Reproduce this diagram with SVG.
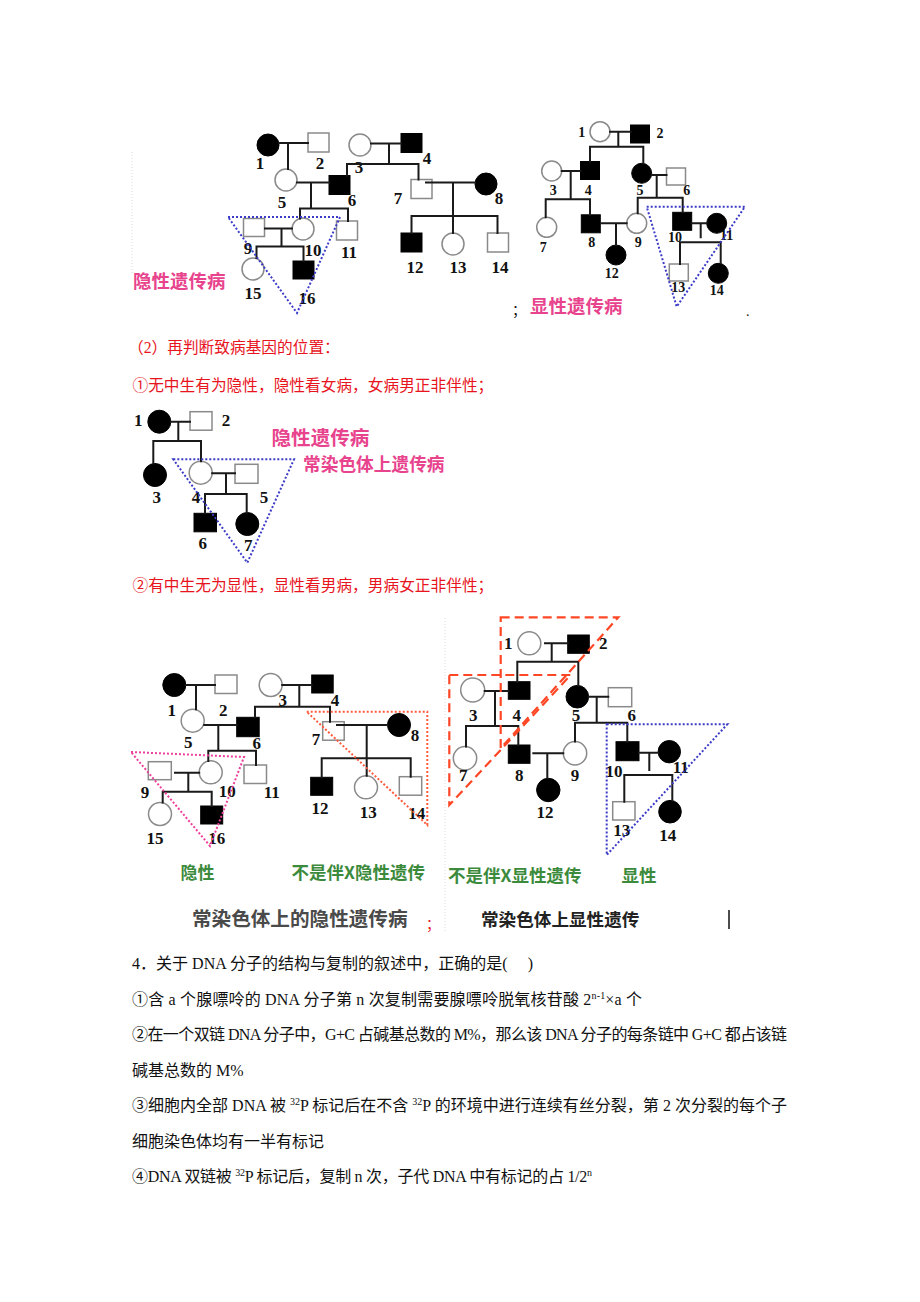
<svg xmlns="http://www.w3.org/2000/svg" width="920" height="1302" viewBox="0 0 920 1302">
<style>
.ln{stroke:#1a1a1a;stroke-width:2;fill:none;stroke-linecap:square}
.fo{fill:#fff;stroke:#8a8a8a;stroke-width:1.5}
.ff{fill:#000;stroke:#000;stroke-width:1}
.lb{font-family:"Liberation Serif",serif;font-weight:bold;font-size:17px;text-anchor:middle;fill:#111}
.s{font-size:14px}
.tb{fill:none;stroke:#3b3bc8;stroke-width:2;stroke-dasharray:2 2}
.tp{fill:none;stroke:#ee3f9c;stroke-width:2;stroke-dasharray:2 2}
.to{fill:none;stroke:#ff5a3c;stroke-width:2;stroke-dasharray:2 2}
.td{fill:none;stroke:#ff4726;stroke-width:2.2;stroke-dasharray:9 5}
.faint{stroke:#dcdcdc;stroke-width:1;stroke-dasharray:1 2}
.cjk{font-family:"Liberation Serif","Noto Sans CJK SC",serif}
.pk{font-family:"Noto Sans CJK SC",sans-serif;font-weight:bold;fill:#e8438d}
.gr{font-family:"Noto Sans CJK SC",sans-serif;font-weight:bold;fill:#3c8a3c}
.rd{fill:#e8141e;font-size:15.7px}
.bd{fill:#111;font-size:16px;white-space:pre}
</style>
<rect width="920" height="1302" fill="#fff"/>
<line class="faint" x1="132" y1="152" x2="132" y2="275"/>
<line class="faint" x1="445" y1="618" x2="445" y2="932"/>

<!-- ============ Top-left pedigree ============ -->
<g id="tl-1"><circle class="ff" cx="268" cy="145" r="11"/><text class="lb" x="260" y="169">1</text></g>
<g id="tl-2"><rect class="fo" x="308" y="133" width="21" height="19"/><text class="lb" x="320" y="169">2</text></g>
<g id="tl-3"><circle class="fo" cx="360" cy="145" r="11"/><text class="lb" x="359" y="172.5">3</text></g>
<g id="tl-4"><rect class="ff" x="401" y="133.5" width="21" height="19"/><text class="lb" x="427" y="164">4</text></g>
<g id="tl-5"><circle class="fo" cx="286" cy="180" r="11"/><text class="lb" x="282" y="207.5">5</text></g>
<g id="tl-6"><rect class="ff" x="329" y="175.5" width="21" height="19"/><text class="lb" x="352" y="206">6</text></g>
<g id="tl-7"><rect class="fo" x="411" y="179.5" width="21" height="19"/><text class="lb" x="398" y="204">7</text></g>
<g id="tl-8"><circle class="ff" cx="486" cy="184" r="11"/><text class="lb" x="499" y="204">8</text></g>
<g id="tl-9"><rect class="fo" x="243.5" y="218.5" width="21" height="18"/><text class="lb" x="248" y="254">9</text></g>
<g id="tl-10"><circle class="fo" cx="303" cy="229" r="11"/><text class="lb" x="313" y="256">10</text></g>
<g id="tl-11"><rect class="fo" x="336.5" y="221" width="21" height="19"/><text class="lb" x="349" y="257.5">11</text></g>
<g id="tl-12"><rect class="ff" x="401" y="233" width="21" height="19"/><text class="lb" x="415" y="272.5">12</text></g>
<g id="tl-13"><circle class="fo" cx="453" cy="244" r="11"/><text class="lb" x="458" y="272.5">13</text></g>
<g id="tl-14"><rect class="fo" x="487.5" y="233" width="21" height="19"/><text class="lb" x="500" y="272.5">14</text></g>
<g id="tl-15"><circle class="fo" cx="253" cy="269" r="11"/><text class="lb" x="253" y="299">15</text></g>
<g id="tl-16"><rect class="ff" x="293" y="261" width="21" height="18"/><text class="lb" x="307" y="304">16</text></g>

<!-- ============ Top-right pedigree ============ -->
<g id="tr-1"><circle class="fo" cx="600" cy="131.7" r="10"/><text class="lb s" x="581.7" y="136.7">1</text></g>
<g id="tr-2"><rect class="ff" x="630.5" y="125" width="19" height="18"/><text class="lb s" x="660" y="138.3">2</text></g>
<g id="tr-3"><circle class="fo" cx="551.7" cy="171" r="10"/><text class="lb s" x="553.3" y="195">3</text></g>
<g id="tr-4"><rect class="ff" x="580.5" y="161.5" width="19" height="18"/><text class="lb s" x="588.3" y="195">4</text></g>
<g id="tr-5"><circle class="ff" cx="641.7" cy="173.3" r="10"/><text class="lb s" x="640" y="195">5</text></g>
<g id="tr-6"><rect class="fo" x="666.5" y="168" width="19" height="17"/><text class="lb s" x="686.7" y="195">6</text></g>
<g id="tr-7"><circle class="fo" cx="546.7" cy="227.3" r="10"/><text class="lb s" x="543.3" y="251.7">7</text></g>
<g id="tr-8"><rect class="ff" x="581.3" y="214.8" width="19" height="18"/><text class="lb s" x="591.7" y="246.7">8</text></g>
<g id="tr-9"><circle class="fo" cx="636.7" cy="223.3" r="10"/><text class="lb s" x="638.3" y="246.7">9</text></g>
<g id="tr-10"><rect class="ff" x="672.7" y="212.3" width="19" height="18"/><text class="lb s" x="675" y="241.7">10</text></g>
<g id="tr-11"><circle class="ff" cx="716.7" cy="223.3" r="10"/><text class="lb s" x="726.7" y="240">11</text></g>
<g id="tr-12"><circle class="ff" cx="616" cy="255" r="10"/><text class="lb s" x="611.7" y="278.3">12</text></g>
<g id="tr-13"><rect class="fo" x="669.3" y="264" width="19" height="17"/><text class="lb s" x="678.3" y="291.7">13</text></g>
<g id="tr-14"><circle class="ff" cx="718.3" cy="273.3" r="10"/><text class="lb s" x="716.7" y="295">14</text></g>

<!-- ============ Middle pedigree ============ -->
<g id="m-1"><circle class="ff" cx="159.3" cy="421.7" r="11.5"/><text class="lb" x="138.3" y="426">1</text></g>
<g id="m-2"><rect class="fo" x="190" y="411.7" width="22" height="18.5"/><text class="lb" x="226" y="426">2</text></g>
<g id="m-3"><circle class="ff" cx="155" cy="475" r="11.5"/><text class="lb" x="156.7" y="502.7">3</text></g>
<g id="m-4"><circle class="fo" cx="200.7" cy="472.7" r="11.5"/><text class="lb" x="196" y="502.7">4</text></g>
<g id="m-5"><rect class="fo" x="235" y="464.3" width="23" height="19"/><text class="lb" x="264" y="502.7">5</text></g>
<g id="m-6"><rect class="ff" x="194" y="513.3" width="22.5" height="18.5"/><text class="lb" x="202.7" y="549.3">6</text></g>
<g id="m-7"><circle class="ff" cx="247.3" cy="524" r="11.5"/><text class="lb" x="248.3" y="551">7</text></g>

<!-- ============ Bottom-left pedigree ============ -->
<g id="bl-1"><circle class="ff" cx="174.3" cy="685" r="11.5"/><text class="lb" x="171.7" y="716">1</text></g>
<g id="bl-2"><rect class="fo" x="215" y="675" width="22" height="18.5"/><text class="lb" x="223.3" y="716">2</text></g>
<g id="bl-3"><circle class="fo" cx="270.7" cy="685" r="11.5"/><text class="lb" x="282.7" y="706">3</text></g>
<g id="bl-4"><rect class="ff" x="311.7" y="675" width="21.5" height="18"/><text class="lb" x="335" y="706">4</text></g>
<g id="bl-5"><circle class="fo" cx="192.7" cy="720.7" r="11.5"/><text class="lb" x="188.3" y="747.7">5</text></g>
<g id="bl-6"><rect class="ff" x="236.7" y="717.3" width="22.5" height="19.4"/><text class="lb" x="256.7" y="749.3">6</text></g>
<g id="bl-7"><rect class="fo" x="322.7" y="721.7" width="21.5" height="18.5"/><text class="lb" x="316" y="745.3">7</text></g>
<g id="bl-8"><circle class="ff" cx="399" cy="725" r="11.5"/><text class="lb" x="415" y="741">8</text></g>
<g id="bl-9"><rect class="fo" x="148.3" y="761.7" width="23" height="18"/><text class="lb" x="145" y="797.7">9</text></g>
<g id="bl-10"><circle class="fo" cx="210.7" cy="772.3" r="11.5"/><text class="lb" x="227.3" y="796.7">10</text></g>
<g id="bl-11"><rect class="fo" x="244" y="765" width="22.5" height="18.5"/><text class="lb" x="271.7" y="797.7">11</text></g>
<g id="bl-12"><rect class="ff" x="310.7" y="777.3" width="22" height="18"/><text class="lb" x="320" y="814.3">12</text></g>
<g id="bl-13"><circle class="fo" cx="366" cy="787.3" r="11.5"/><text class="lb" x="368.3" y="817.7">13</text></g>
<g id="bl-14"><rect class="fo" x="399.3" y="776.7" width="22.4" height="18.5"/><text class="lb" x="416.7" y="819.3">14</text></g>
<g id="bl-15"><circle class="fo" cx="160" cy="814" r="11.5"/><text class="lb" x="155" y="844.3">15</text></g>
<g id="bl-16"><rect class="ff" x="200.7" y="806" width="22" height="18"/><text class="lb" x="216.7" y="844.3">16</text></g>

<!-- ============ Bottom-right pedigree ============ -->
<g id="br-1"><circle class="fo" cx="529.3" cy="643.3" r="11.5"/><text class="lb" x="508.3" y="649.3">1</text></g>
<g id="br-2"><rect class="ff" x="567.7" y="635" width="21.6" height="18.3"/><text class="lb" x="603.3" y="649.3">2</text></g>
<g id="br-3"><circle class="fo" cx="472.7" cy="690" r="12"/><text class="lb" x="473.3" y="721">3</text></g>
<g id="br-4"><rect class="ff" x="508.3" y="681.7" width="21.7" height="17.6"/><text class="lb" x="516.7" y="721">4</text></g>
<g id="br-5"><circle class="ff" cx="577.3" cy="696.7" r="11.3"/><text class="lb" x="576" y="721">5</text></g>
<g id="br-6"><rect class="fo" x="608.3" y="687.7" width="23.4" height="19"/><text class="lb" x="631.7" y="721">6</text></g>
<g id="br-7"><circle class="fo" cx="465" cy="758.3" r="11.7"/><text class="lb" x="463.3" y="781">7</text></g>
<g id="br-8"><rect class="ff" x="508.3" y="745" width="21.7" height="18.3"/><text class="lb" x="519.3" y="781">8</text></g>
<g id="br-9"><circle class="fo" cx="575" cy="753.3" r="11.7"/><text class="lb" x="575" y="781">9</text></g>
<g id="br-10"><rect class="ff" x="616" y="741.7" width="23" height="19"/><text class="lb" x="614" y="776.7">10</text></g>
<g id="br-11"><circle class="ff" cx="669.3" cy="751.7" r="11.2"/><text class="lb" x="680.7" y="772.7">11</text></g>
<g id="br-12"><circle class="ff" cx="548.3" cy="790" r="11.7"/><text class="lb" x="545" y="817.7">12</text></g>
<g id="br-13"><rect class="fo" x="612.7" y="801.7" width="22.3" height="18.3"/><text class="lb" x="621.7" y="836">13</text></g>
<g id="br-14"><circle class="ff" cx="670" cy="811.7" r="11.3"/><text class="lb" x="667.7" y="841">14</text></g>

<!-- ============ Connectors ============ -->
<g id="connectors" class="ln">
  <!-- top-left -->
  <path d="M279 143H308 M288 143V169 M371 143.5H401 M389 143.5V164 M347 164H418.5 M347 164V175.5 M418.5 164V179.5"/>
  <path d="M297 182.5H329 M311 182.5V208.5 M300 208.5H348 M300 208.5V218.5 M348 208.5V221"/>
  <path d="M426 182.5H475 M453 182.5V216 M411.5 216H497.5 M411.5 216V233 M453 216V233 M497.5 216V233"/>
  <path d="M265 228.5H292 M281.5 228.5V246.5 M256.5 246.5H303.5 M256.5 246.5V258 M303.5 246.5V261"/>
  <!-- top-right -->
  <path d="M610 131.7H630.5 M618.3 131.7V146.7 M590 146.7H643.3 M590 146.7V161.5 M643.3 146.7V163.3"/>
  <path d="M561.7 171H580.5 M570.7 171V199.3 M545.7 199.3H590 M545.7 199.3V217.3 M590 199.3V214.8"/>
  <path d="M651.7 175H666.5 M656.7 175V197.7 M637.7 197.7H682.7 M637.7 197.7V213.3 M682.7 197.7V212.3"/>
  <path d="M601.5 223.3H626.7 M616 223.3V245 M691.7 223.3H706.7 M700.7 223.3V237.3 M680 242.3H720.7 M680 242.3V264 M720.7 242.3V263.3"/>
  <!-- middle -->
  <path d="M170.8 421.7H190 M178.3 421.7V441 M153.3 441H201 M153.3 441V463.5 M201 441V461.2"/>
  <path d="M212.2 473.3H235 M226 473.3V494 M205 494H246.7 M205 494V513.3 M246.7 494V512.5"/>
  <!-- bottom-left -->
  <path d="M185.8 685H215 M196 685V709.2 M282.2 685H311.7 M299.3 685V706.7 M255 706.7H330 M255 706.7V717.3 M330 706.7V721.7"/>
  <path d="M204.2 725H236.7 M218.3 725V750.7 M208.3 750.7H256 M208.3 750.7V761 M256 750.7V765"/>
  <path d="M337 725H387.5 M366.7 725V758.3 M321.7 758.3H410.7 M321.7 758.3V777.3 M366.7 758.3V775.8 M410.7 758.3V776.7"/>
  <path d="M175 772.7H199.2 M188.3 772.7V791.7 M162.7 791.7H211.7 M162.7 791.7V802.5 M211.7 791.7V806"/>
  <!-- bottom-right -->
  <path d="M545 643.3H567.7 M551.7 643.3V661.7 M517.3 661.7H578.3 M517.3 661.7V681.7 M578.3 661.7V685.4"/>
  <path d="M484.7 691H508.3 M495 691V726 M466 726H518.3 M466 726V746.6 M518.3 726V745"/>
  <path d="M588.6 696.7H608.3 M596.7 696.7V722.7 M575 722.7H627.3 M575 722.7V741.6 M627.3 722.7V741.7"/>
  <path d="M533.3 753.3H563.3 M547.3 753.3V778.3"/>
  <path d="M639 752.7H658.1 M649.3 752.7V770 M624.3 775H672.3 M624.3 775V801.7 M672.3 775V800.4"/>
</g>

<!-- ============ Annotations ============ -->
<g id="annotations">
  <polygon class="tb" points="228,217 340,217 297,313"/>
  <text class="pk" x="133" y="287.5" font-size="18.5">隐性遗传病</text>
  <polygon class="tb" points="646.7,206.7 745,206.7 676.7,306.7"/>
  <text class="cjk" x="512" y="315" font-size="14" fill="#111">；</text>
  <text class="pk" x="530" y="312.5" font-size="18.5">显性遗传病</text>
  <text class="cjk" x="746" y="316" font-size="14" fill="#111">.</text>

  <polygon class="tb" points="173.3,459.3 294,459.3 247.3,562.7"/>
  <text class="pk" x="271.5" y="445" font-size="19.6">隐性遗传病</text>
  <text class="pk" x="303" y="470.5" font-size="17.7">常染色体上遗传病</text>

  <polygon class="tp" points="131,752 244,757 210,846"/>
  <polygon class="to" points="306.7,711.7 427.3,711.7 427.3,825"/>
  <text class="gr" x="180.5" y="879" font-size="17">隐性</text>
  <text class="gr" x="291.5" y="879" font-size="17.5">不是伴X隐性遗传</text>

  <polygon class="td" points="500.7,617.3 618.3,617.3 500.7,748.3"/>
  <polygon class="td" points="449.3,675 570.7,675 449.3,805"/>
  <polygon class="tb" points="606.7,724.3 727.3,724.3 606.7,855"/>
  <text class="gr" x="448" y="882" font-size="17.5">不是伴X显性遗传</text>
  <text class="gr" x="621.5" y="882" font-size="17.5">显性</text>

  <text font-family="Noto Sans CJK SC,sans-serif" font-weight="bold" x="192" y="926" font-size="19.6" fill="#4a4a4a">常染色体上的隐性遗传病</text>
  <text class="cjk" x="426" y="929" font-size="14" fill="#e8141e">；</text>
  <text font-family="Noto Sans CJK SC,sans-serif" font-weight="bold" x="481" y="925.5" font-size="17.6" fill="#222">常染色体上显性遗传</text>
  <line x1="729" y1="910" x2="729" y2="929" stroke="#111" stroke-width="1.5"/>
</g>

<!-- ============ Text ============ -->
<g id="text" class="cjk">
  <text class="rd" x="128" y="353" font-size="15">（2）再判断致病基因的位置：</text>
  <text class="rd" x="132.5" y="390.5">①无中生有为隐性，隐性看女病，女病男正非伴性；</text>
  <text class="rd" x="132.5" y="590.5">②有中生无为显性，显性看男病，男病女正非伴性；</text>

  <text class="bd" x="132" y="969" textLength="401" lengthAdjust="spacing">4．关于 DNA 分子的结构与复制的叙述中，正确的是(&#160;&#160;&#160;&#160;&#160;)</text>
  <text class="bd" x="132" y="1004.5" textLength="510" lengthAdjust="spacing">①含 a 个腺嘌呤的 DNA 分子第 n 次复制需要腺嘌呤脱氧核苷酸 2<tspan dy="-6" font-size="10">n-1</tspan><tspan dy="6">×a 个</tspan></text>
  <text class="bd" x="132" y="1040" textLength="655" lengthAdjust="spacing">②在一个双链 DNA 分子中，G+C 占碱基总数的 M%，那么该 DNA 分子的每条链中 G+C 都占该链</text>
  <text class="bd" x="132" y="1075.5">碱基总数的 M%</text>
  <text class="bd" x="132" y="1111" textLength="655" lengthAdjust="spacing">③细胞内全部 DNA 被 <tspan dy="-6" font-size="10">32</tspan><tspan dy="6">P 标记后在不含 </tspan><tspan dy="-6" font-size="10">32</tspan><tspan dy="6">P 的环境中进行连续有丝分裂，第 2 次分裂的每个子</tspan></text>
  <text class="bd" x="132" y="1146.5">细胞染色体均有一半有标记</text>
  <text class="bd" x="132" y="1182" textLength="460" lengthAdjust="spacing">④DNA 双链被 <tspan dy="-6" font-size="10">32</tspan><tspan dy="6">P 标记后，复制 n 次，子代 DNA 中有标记的占 1/2</tspan><tspan dy="-6" font-size="10">n</tspan></text>
</g>
</svg>
